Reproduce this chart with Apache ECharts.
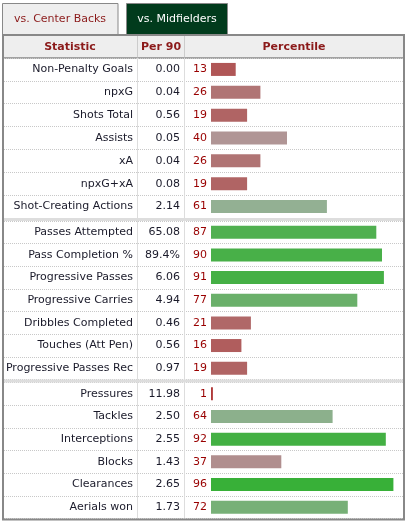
<!DOCTYPE html>
<html>
<head>
<meta charset="utf-8">
<script src="https://cdn.jsdelivr.net/npm/echarts@6/dist/echarts.min.js"></script>
<style>
  html, body { margin: 0; padding: 0; background: #fff; }
  #chart { width: 409px; height: 524px; }
</style>
</head>
<body>
<div id="chart"></div>
<script>
const tabLabels = ['vs. Center Backs', 'vs. Midfielders']
const headerLabels = ['Statistic', 'Per 90', 'Percentile']

const statsAttack = ['Non-Penalty Goals', 'npxG', 'Shots Total', 'Assists', 'xA', 'npxG+xA', 'Shot-Creating Actions']
const per90Attack = ['0.00', '0.04', '0.56', '0.05', '0.04', '0.08', '2.14']
const pctAttack = [13, 26, 19, 40, 26, 19, 61]

const statsPossession = ['Passes Attempted', 'Pass Completion %', 'Progressive Passes', 'Progressive Carries', 'Dribbles Completed', 'Touches (Att Pen)', 'Progressive Passes Rec']
const per90Possession = ['65.08', '89.4%', '6.06', '4.94', '0.46', '0.56', '0.97']
const pctPossession = [87, 90, 91, 77, 21, 16, 19]

const statsDefense = ['Pressures', 'Tackles', 'Interceptions', 'Blocks', 'Clearances', 'Aerials won']
const per90Defense = ['11.98', '2.50', '2.55', '1.43', '2.65', '1.73']
const pctDefense = [1, 64, 92, 37, 96, 72]

const groups = [
  { stats: statsAttack, per90: per90Attack, pct: pctAttack, top: 58, height: 160 },
  { stats: statsPossession, per90: per90Possession, pct: pctPossession, top: 221, height: 158.5 },
  { stats: statsDefense, per90: per90Defense, pct: pctDefense, top: 382.5, height: 136 }
]

const font = 'DejaVu Sans'
const darkRed = '#8b1a1a'

// red below 50, green above, greyer near the middle
function colorFor (p) {
  if (p < 50) {
    const g = Math.round(55 + 2.35 * p)
    return `rgb(176,${g},${g})`
  }
  const r = Math.round(176 - 2.6 * (p - 50))
  return `rgb(${r},176,${r})`
}

const chart = echarts.init(document.getElementById('chart'))

const grid = []
const xAxis = []
const yAxis = []
const series = []
groups.forEach((g, i) => {
  grid.push({ left: 4, right: 6, top: g.top, height: g.height })
  xAxis.push({ gridIndex: i, type: 'value', min: -108.95, max: 101.05, show: false })
  yAxis.push({
    gridIndex: i,
    type: 'category',
    data: g.stats,
    inverse: true,
    axisLine: { show: false },
    axisTick: { show: false },
    axisLabel: { show: false },
    splitLine: { show: true, interval: 0, lineStyle: { type: [1, 1], color: '#c8c8c8' } }
  })
  yAxis.push({
    gridIndex: i,
    type: 'category',
    data: g.stats,
    inverse: true,
    position: 'left',
    offset: -133,
    axisLine: { show: true, lineStyle: { color: '#dddddd' } },
    axisTick: { show: false },
    axisLabel: { interval: 0, margin: 4, color: '#1a1a2a', fontSize: 11, fontFamily: font },
    splitLine: { show: false }
  })
  yAxis.push({
    gridIndex: i,
    type: 'category',
    data: g.per90,
    inverse: true,
    position: 'left',
    offset: -180,
    axisLine: { show: true, lineStyle: { color: '#dddddd' } },
    axisTick: { show: false },
    axisLabel: { interval: 0, margin: 4, color: '#1a1a2a', fontSize: 11, fontFamily: font },
    splitLine: { show: false }
  })
  series.push({
    type: 'bar',
    xAxisIndex: i,
    yAxisIndex: i * 3,
    data: g.pct,
    barWidth: 13,
    silent: true,
    itemStyle: { color: p => colorFor(p.value) },
    label: {
      show: true,
      position: 'left',
      distance: 4,
      color: '#990000',
      fontSize: 11,
      fontFamily: font
    }
  })
})

const graphic = [
  // tabs
  { type: 'rect', shape: { x: 2.5, y: 3.5, width: 115.5, height: 32 }, style: { fill: '#eeeeee', stroke: '#888', lineWidth: 1 } },
  { type: 'text', x: 60, y: 19, style: { text: tabLabels[0], fill: darkRed, font: '11px "DejaVu Sans"', textAlign: 'center', textVerticalAlign: 'middle' } },
  { type: 'rect', shape: { x: 126.5, y: 3.5, width: 101, height: 32 }, style: { fill: '#013b1c', stroke: '#888', lineWidth: 1 } },
  { type: 'text', x: 177, y: 19, style: { text: tabLabels[1], fill: '#ffffff', font: '11px "DejaVu Sans"', textAlign: 'center', textVerticalAlign: 'middle' } },
  // header row
  { type: 'rect', shape: { x: 3, y: 35, width: 401, height: 23 }, style: { fill: '#eeeeee' } },
  { type: 'line', shape: { x1: 137.5, y1: 36, x2: 137.5, y2: 58 }, style: { stroke: '#cccccc', lineWidth: 1 } },
  { type: 'line', shape: { x1: 184.5, y1: 36, x2: 184.5, y2: 58 }, style: { stroke: '#cccccc', lineWidth: 1 } },
  { type: 'line', shape: { x1: 3, y1: 58, x2: 404, y2: 58 }, style: { stroke: '#888888', lineWidth: 1.5 } },
  { type: 'text', x: 70, y: 47, style: { text: headerLabels[0], fill: darkRed, font: 'bold 11px "DejaVu Sans"', textAlign: 'center', textVerticalAlign: 'middle' } },
  { type: 'text', x: 161, y: 47, style: { text: headerLabels[1], fill: darkRed, font: 'bold 11px "DejaVu Sans"', textAlign: 'center', textVerticalAlign: 'middle' } },
  { type: 'text', x: 294, y: 47, style: { text: headerLabels[2], fill: darkRed, font: 'bold 11px "DejaVu Sans"', textAlign: 'center', textVerticalAlign: 'middle' } },
  // group separators
  { type: 'rect', z: 10, shape: { x: 4, y: 218, width: 399, height: 3 }, style: { fill: '#dddddd' } },
  { type: 'rect', z: 10, shape: { x: 4, y: 379.5, width: 399, height: 3 }, style: { fill: '#dddddd' } },
  // table border
  { type: 'rect', z: 11, shape: { x: 3, y: 35, width: 401, height: 484.5 }, style: { fill: 'none', stroke: '#888888', lineWidth: 2 } }
]

chart.setOption({
  animation: false,
  backgroundColor: '#ffffff',
  grid: grid,
  xAxis: xAxis,
  yAxis: yAxis,
  series: series,
  graphic: graphic
})
</script>
</body>
</html>
